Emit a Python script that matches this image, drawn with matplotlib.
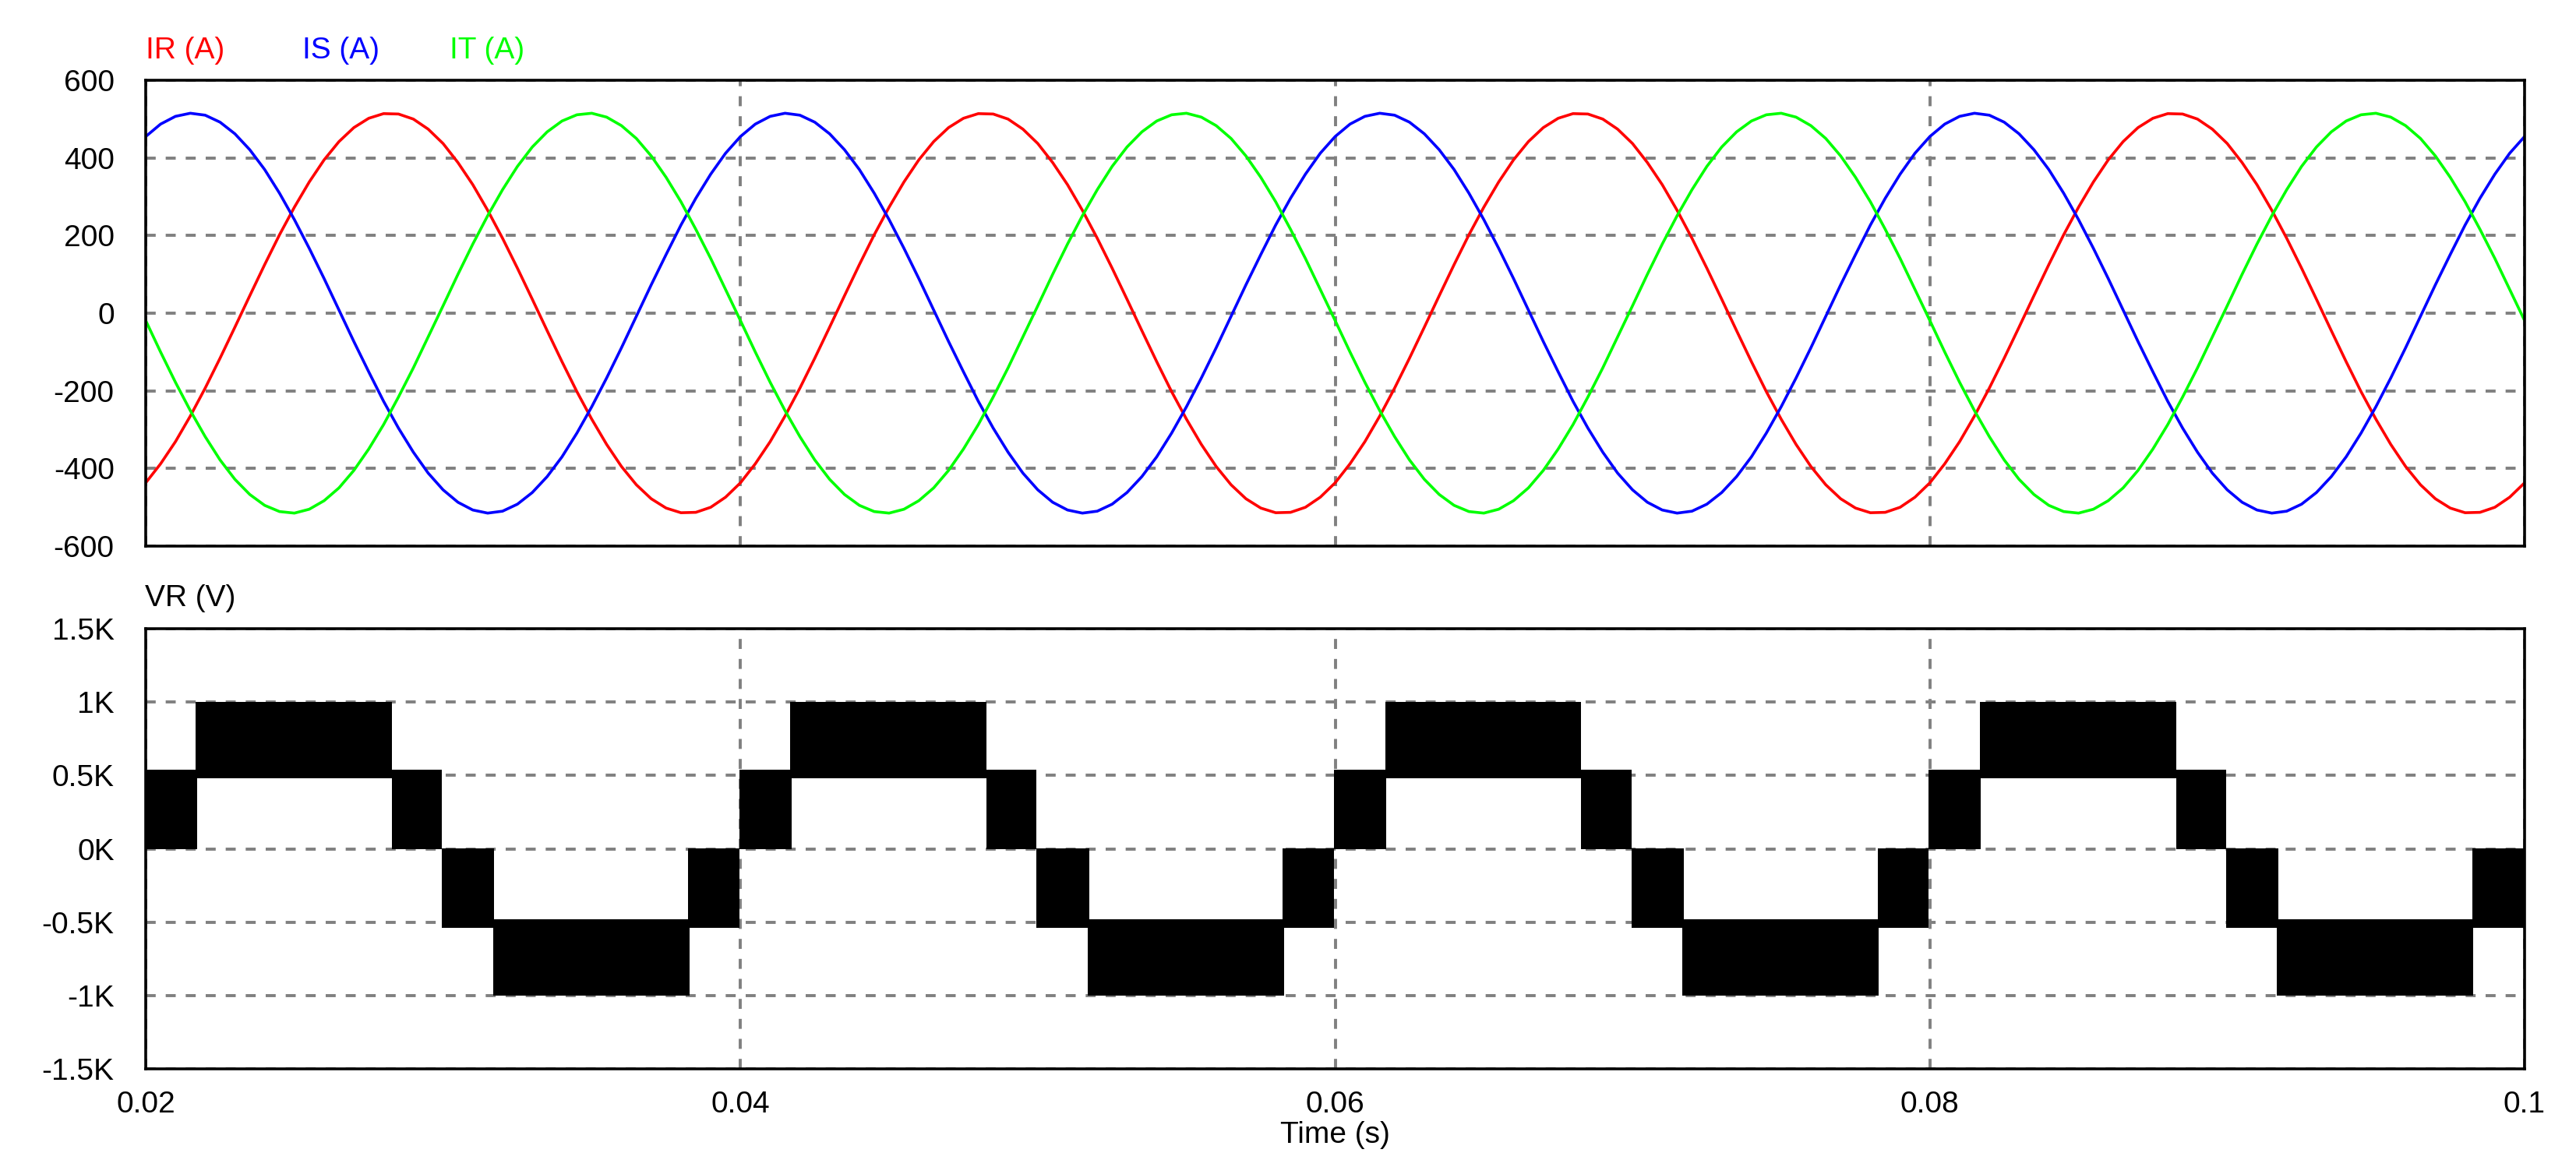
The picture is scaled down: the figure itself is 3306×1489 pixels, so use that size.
# -*- coding: utf-8 -*-
import numpy as np
import matplotlib
matplotlib.use('Agg')
import matplotlib.pyplot as plt

plt.rcParams['font.family'] = ['Liberation Sans', 'DejaVu Sans']
plt.rcParams['font.size'] = 28

# Phase currents, one sample per 0.5 ms from 0.020 s to 0.100 s
t_cur = np.arange(0.020, 0.10025, 0.0005)

ir = [-437, -388, -331, -265, -193, -116, -36, 45, 125, 202, 273, 338, 395, 442, 478, 502, 514, 513, 500, 474,
      437, 388, 331, 265, 193, 116, 36, -45, -125, -202, -273, -338, -395, -442, -478, -502, -514, -513, -500, -474,
      -437, -388, -331, -265, -193, -116, -36, 45, 125, 202, 273, 338, 395, 442, 478, 502, 514, 513, 500, 474,
      437, 388, 331, 265, 193, 116, 36, -45, -125, -202, -273, -338, -395, -442, -478, -502, -514, -513, -500, -474,
      -437, -388, -331, -265, -193, -116, -36, 45, 125, 202, 273, 338, 395, 442, 478, 502, 514, 513, 500, 474,
      437, 388, 331, 265, 193, 116, 36, -45, -125, -202, -273, -338, -395, -442, -478, -502, -514, -513, -500, -474,
      -437, -388, -331, -265, -193, -116, -36, 45, 125, 202, 273, 338, 395, 442, 478, 502, 514, 513, 500, 474,
      437, 388, 331, 265, 193, 116, 36, -45, -125, -202, -273, -338, -395, -442, -478, -502, -514, -513, -500, -474,
      -437]
is_ = [455, 487, 507, 515, 510, 492, 462, 421, 370, 309, 241, 167, 89, 8, -73, -151, -227, -296, -358, -412,
       -455, -487, -507, -515, -510, -492, -462, -421, -370, -309, -241, -167, -89, -8, 73, 151, 227, 296, 358, 412,
       455, 487, 507, 515, 510, 492, 462, 421, 370, 309, 241, 167, 89, 8, -73, -151, -227, -296, -358, -412,
       -455, -487, -507, -515, -510, -492, -462, -421, -370, -309, -241, -167, -89, -8, 73, 151, 227, 296, 358, 412,
       455, 487, 507, 515, 510, 492, 462, 421, 370, 309, 241, 167, 89, 8, -73, -151, -227, -296, -358, -412,
       -455, -487, -507, -515, -510, -492, -462, -421, -370, -309, -241, -167, -89, -8, 73, 151, 227, 296, 358, 412,
       455, 487, 507, 515, 510, 492, 462, 421, 370, 309, 241, 167, 89, 8, -73, -151, -227, -296, -358, -412,
       -455, -487, -507, -515, -510, -492, -462, -421, -370, -309, -241, -167, -89, -8, 73, 151, 227, 296, 358, 412,
       455]
it = [-19, -100, -178, -251, -318, -378, -428, -467, -495, -511, -515, -505, -483, -450, -405, -350, -287, -216, -141, -61,
      19, 100, 178, 251, 318, 378, 428, 467, 495, 511, 515, 505, 483, 450, 405, 350, 287, 216, 141, 61,
      -19, -100, -178, -251, -318, -378, -428, -467, -495, -511, -515, -505, -483, -450, -405, -350, -287, -216, -141, -61,
      19, 100, 178, 251, 318, 378, 428, 467, 495, 511, 515, 505, 483, 450, 405, 350, 287, 216, 141, 61,
      -19, -100, -178, -251, -318, -378, -428, -467, -495, -511, -515, -505, -483, -450, -405, -350, -287, -216, -141, -61,
      19, 100, 178, 251, 318, 378, 428, 467, 495, 511, 515, 505, 483, 450, 405, 350, 287, 216, 141, 61,
      -19, -100, -178, -251, -318, -378, -428, -467, -495, -511, -515, -505, -483, -450, -405, -350, -287, -216, -141, -61,
      19, 100, 178, 251, 318, 378, 428, 467, 495, 511, 515, 505, 483, 450, 405, 350, 287, 216, 141, 61,
      -19]

# Phase voltage VR: PWM bands (start, end, lower level, upper level)
vr_start = [0.02000, 0.02168, 0.02828, 0.02996, 0.03168, 0.03824,
            0.03996, 0.04168, 0.04828, 0.04996, 0.05168, 0.05824,
            0.05996, 0.06168, 0.06828, 0.06996, 0.07168, 0.07824,
            0.07996, 0.08168, 0.08828, 0.08996, 0.09168, 0.09824]
vr_end = [0.02172, 0.02828, 0.02996, 0.03172, 0.03828, 0.03996,
          0.04172, 0.04828, 0.04996, 0.05172, 0.05828, 0.05996,
          0.06172, 0.06828, 0.06996, 0.07172, 0.07828, 0.07996,
          0.08172, 0.08828, 0.08996, 0.09172, 0.09828, 0.10000]
vr_low = [0, 480, 0, -540, -1000, -540] * 4
vr_high = [540, 1000, 540, 0, -480, 0] * 4

t_ticks = [0.02, 0.04, 0.06, 0.08, 0.1]
t_labels = ['0.02', '0.04', '0.06', '0.08', '0.1']
i_ticks = [600, 400, 200, 0, -200, -400, -600]
i_labels = ['600', '400', '200', '0', '-200', '-400', '-600']
v_ticks = [1500, 1000, 500, 0, -500, -1000, -1500]
v_labels = ['1.5K', '1K', '0.5K', '0K', '-0.5K', '-1K', '-1.5K']

W, H = 3306, 1489


def style_axes(ax):
    for sp in ax.spines.values():
        sp.set_linewidth(2.6)
        sp.set_color('black')
    ax.tick_params(length=0)
    ax.tick_params(axis='y', pad=29)
    ax.tick_params(axis='x', pad=20)
    ax.set_axisbelow(True)
    ax.grid(True, color='#808080', linewidth=2.8, linestyle=(0, (3.3, 3.3)))


fig = plt.figure(figsize=(W / 100, H / 100), dpi=100)
ax1 = fig.add_axes([187 / W, 1 - 701 / H, (3240 - 187) / W, (701 - 103) / H])
ax2 = fig.add_axes([187 / W, 1 - 1372 / H, (3240 - 187) / W, (1372 - 807) / H])

# currents
ax1.plot(t_cur, ir, color='#ff0000', linewidth=2.6)
ax1.plot(t_cur, is_, color='#0000ff', linewidth=2.6)
ax1.plot(t_cur, it, color='#00ff00', linewidth=2.6)
ax1.set_xlim(0.02, 0.1)
ax1.set_ylim(-600, 600)
ax1.set_yticks(i_ticks)
ax1.set_yticklabels(i_labels)
ax1.set_xticks(t_ticks)
ax1.tick_params(labelbottom=False)
style_axes(ax1)

# voltage
widths = np.array(vr_end) - np.array(vr_start)
heights = np.array(vr_high) - np.array(vr_low)
ax2.bar(vr_start, heights, width=widths, bottom=vr_low, align='edge', color='black', linewidth=0)
ax2.set_xlim(0.02, 0.1)
ax2.set_ylim(-1500, 1500)
ax2.set_yticks(v_ticks)
ax2.set_yticklabels(v_labels)
ax2.set_xticks(t_ticks)
ax2.set_xticklabels(t_labels)
ax2.set_xlabel('Time (s)', labelpad=2)
style_axes(ax2)

# trace names
fig.text(187 / W, 1 - 75 / H, 'IR (A)', color='#ff0000', ha='left', va='baseline')
fig.text(388 / W, 1 - 75 / H, 'IS (A)', color='#0000ff', ha='left', va='baseline')
fig.text(577 / W, 1 - 75 / H, 'IT (A)', color='#00ff00', ha='left', va='baseline')
fig.text(186 / W, 1 - 778 / H, 'VR (V)', color='black', ha='left', va='baseline')

plt.savefig('out.png', dpi=100)
plt.close()
